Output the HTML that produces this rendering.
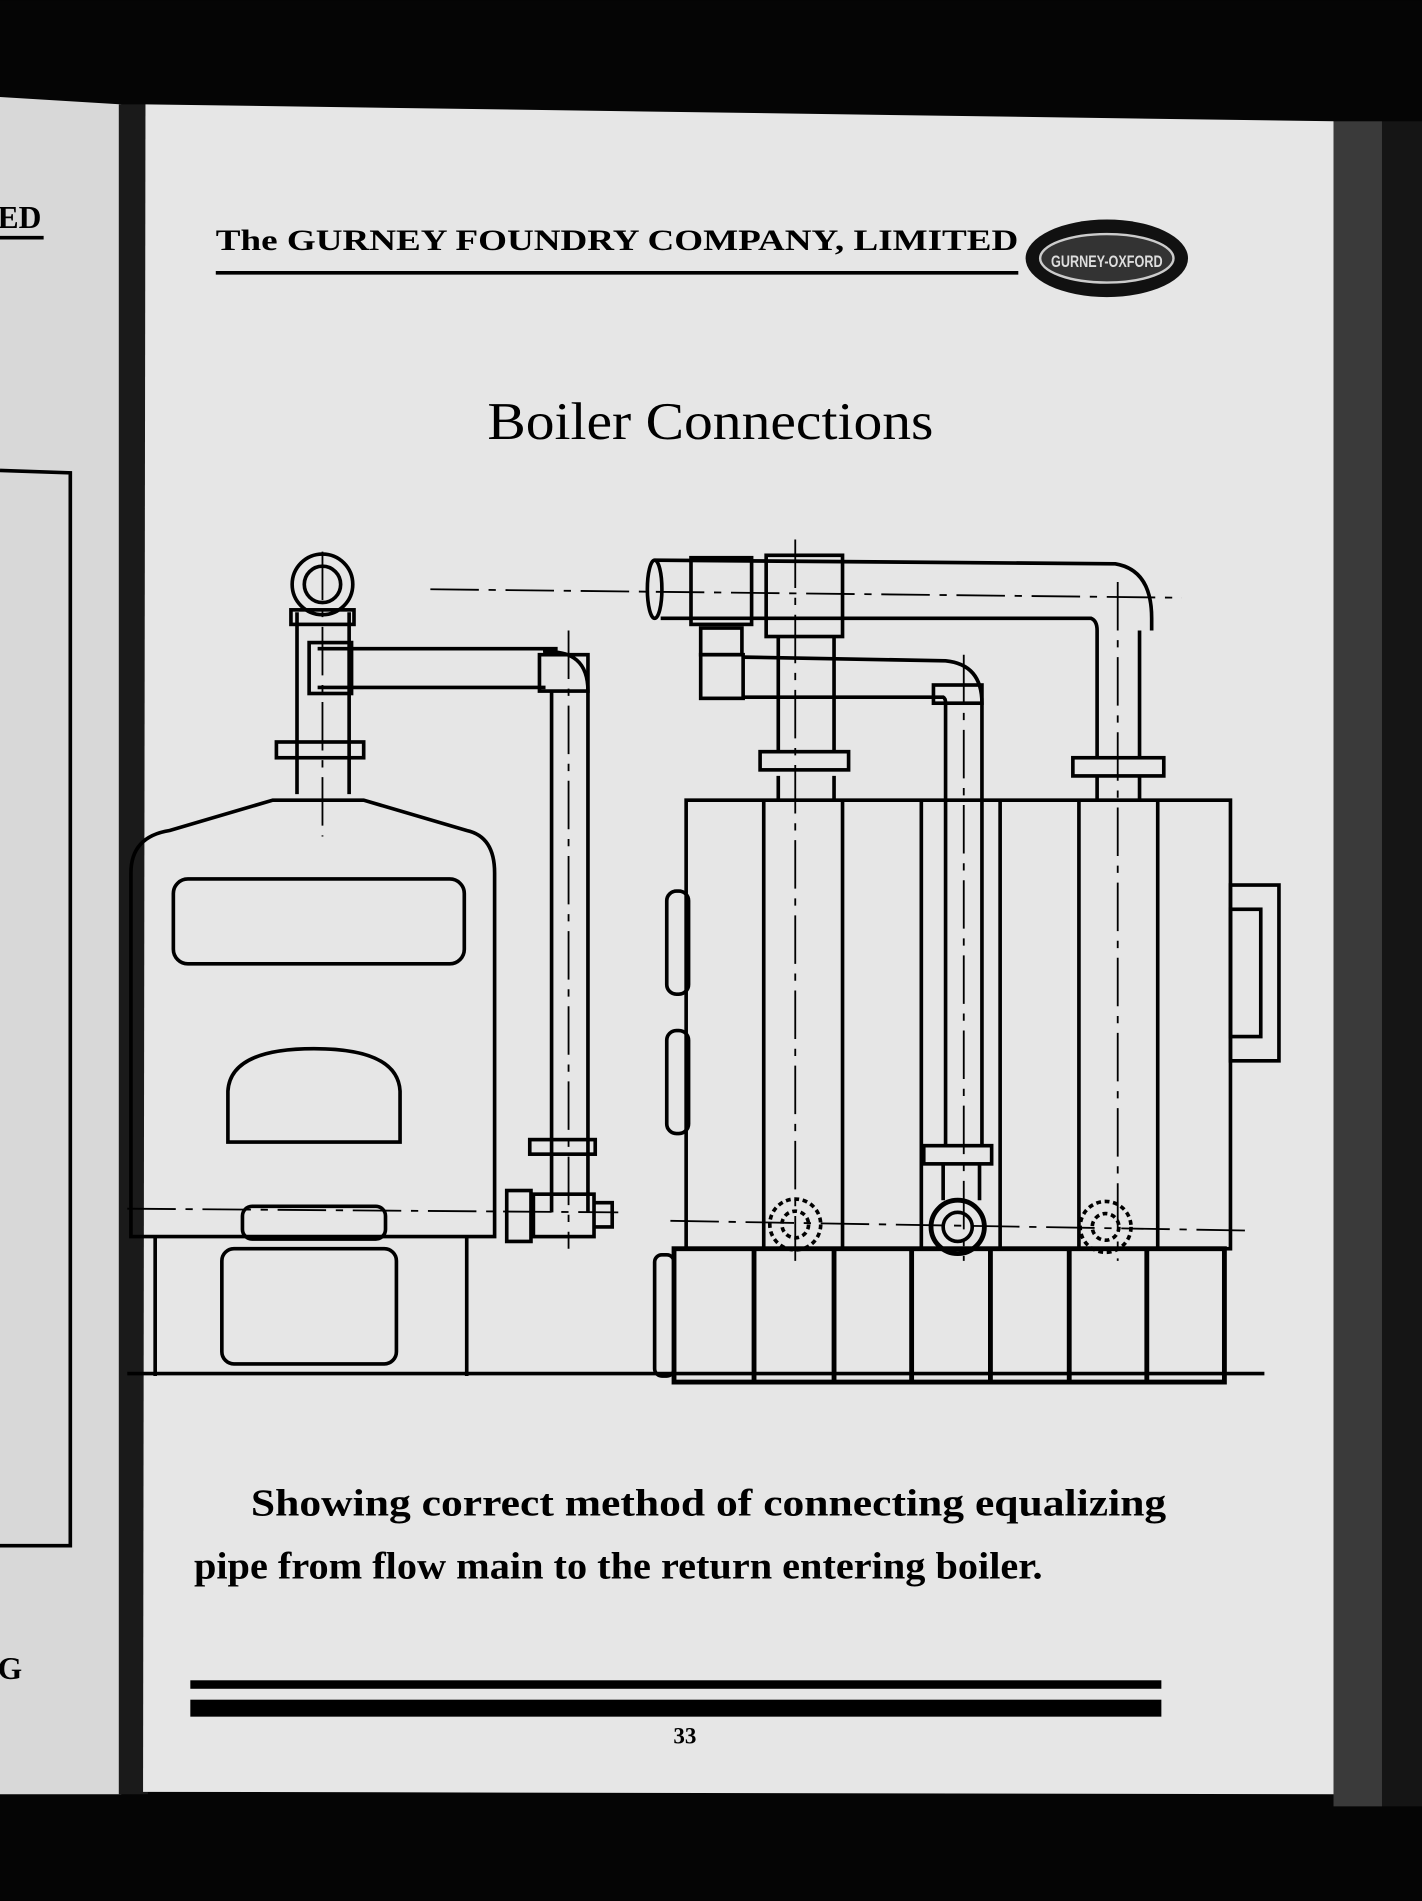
<!DOCTYPE html>
<html><head><meta charset="utf-8"><style>
html,body{margin:0;padding:0;background:#000;}
svg{display:block}
</style></head><body>
<svg width="1422" height="1901" viewBox="0 0 1173 1568" xmlns="http://www.w3.org/2000/svg">
<rect width="1173" height="1568" fill="#050505"/>
<path d="M0 80 L100 86 L100 1480 L0 1480 Z" fill="#d8d8d8"/>
<rect x="98" y="86" width="24" height="1394" fill="#1a1a1a"/>
<path d="M120 86 L1100 100 L1100 1480 L118 1478 Z" fill="#e6e6e6"/>
<rect x="1100" y="100" width="40" height="1390" fill="#3a3a3a"/>
<rect x="1140" y="100" width="33" height="1390" fill="#151515"/>
<text x="-2" y="188" font-family="Liberation Serif,serif" font-weight="bold" font-size="26">ED</text>
<line x1="0" y1="196" x2="36" y2="196" stroke="#000" stroke-width="3"/>
<path d="M0 388 L58 390 L58 1275 L0 1275" fill="none" stroke="#000" stroke-width="3"/>
<text x="-2" y="1385" font-family="Liberation Serif,serif" font-weight="bold" font-size="26">G</text>
<text x="178" y="206" font-family="Liberation Serif,serif" font-weight="bold" font-size="24" textLength="662" lengthAdjust="spacingAndGlyphs">The GURNEY FOUNDRY COMPANY, LIMITED</text>
<line x1="178" y1="225" x2="840" y2="225" stroke="#000" stroke-width="3"/>
<ellipse cx="913" cy="213" rx="67" ry="32" fill="#111"/>
<ellipse cx="913" cy="213" rx="55" ry="20" fill="#333" stroke="#ccc" stroke-width="2"/>
<text x="913" y="220" text-anchor="middle" font-family="Liberation Sans,sans-serif" font-weight="bold" font-size="14" fill="#ddd" textLength="92" lengthAdjust="spacingAndGlyphs">GURNEY-OXFORD</text>
<text x="586" y="362" text-anchor="middle" font-family="Liberation Serif,serif" font-size="44" textLength="368" lengthAdjust="spacingAndGlyphs">Boiler Connections</text>
<g fill="none" stroke="#000" stroke-width="3">
<path d="M108 1020 L108 720 Q108 690 140 685 L225 660 L300 660 L385 685 Q408 690 408 720 L408 1020 Z"/>
<rect x="143" y="725" width="240" height="70" rx="12"/>
<path d="M188 900 Q190 865 259 865 Q328 865 330 900 L330 942 L188 942 Z"/>
<rect x="200" y="995" width="118" height="27" rx="8"/>
<path d="M128 1020 L128 1135 M385 1020 L385 1135"/>
<rect x="183" y="1030" width="144" height="95" rx="10"/>
<line x1="105" y1="1133" x2="1043" y2="1133"/>
<path d="M245 505 L245 655 M288 505 L288 655"/>
<circle cx="266" cy="482" r="25"/><circle cx="266" cy="482" r="15"/>
<rect x="240" y="503" width="52" height="12"/>
<rect x="228" y="612" width="72" height="13"/>
<path d="M262 535 L460 535 M262 567 L450 567"/>
<rect x="255" y="530" width="35" height="42"/>
<path d="M448 538 Q485 535 485 570 L485 1000 M455 570 L455 1000"/>
<rect x="445" y="540" width="40" height="30"/>
<rect x="437" y="940" width="54" height="12"/>
<rect x="440" y="985" width="50" height="35"/>
<rect x="418" y="982" width="20" height="42"/>
<path d="M490 992 L505 992 L505 1012 L490 1012"/>
<rect x="566" y="660" width="449" height="370"/>
<path d="M630 660 V1030 M695 660 V1030 M760 660 V1030 M825 660 V1030 M890 660 V1030 M955 660 V1030"/>
<rect x="550" y="735" width="18" height="85" rx="8"/>
<rect x="550" y="850" width="18" height="85" rx="8"/>
<rect x="1015" y="730" width="40" height="145"/>
<rect x="1015" y="750" width="25" height="105"/>
<rect x="556" y="1030" width="454" height="110" stroke-width="4"/>
<path d="M622 1030 V1140 M688 1030 V1140 M752 1030 V1140 M817 1030 V1140 M882 1030 V1140 M946 1030 V1140" stroke-width="4"/>
<rect x="540" y="1035" width="16" height="100" rx="6"/>
<path d="M540 462 L920 465 Q950 470 950 510 L950 520 M545 510 L900 510 Q905 512 905 520"/>
<ellipse cx="540" cy="486" rx="6" ry="24"/>
<path d="M905 520 V625 M940 520 V625 M905 640 V660 M940 640 V660"/>
<rect x="885" y="625" width="75" height="15"/>
<rect x="570" y="460" width="50" height="55"/>
<rect x="632" y="458" width="63" height="67"/>
<path d="M642 525 V620 M688 525 V620 M642 640 V660 M688 640 V660"/>
<rect x="627" y="620" width="73" height="15"/>
<rect x="578" y="518" width="34" height="22"/>
<rect x="578" y="540" width="35" height="36"/>
<path d="M613 542 L780 545 Q810 548 810 580 L810 945 M613 575 L778 575 Q780 576 780 580 L780 945"/>
<rect x="770" y="565" width="40" height="15"/>
<rect x="762" y="945" width="56" height="15"/>
<path d="M778 960 V990 M808 960 V990"/>
<circle cx="790" cy="1012" r="22" stroke-width="4"/><circle cx="790" cy="1012" r="12"/>
<circle cx="656" cy="1010" r="21" stroke-dasharray="4 3"/><circle cx="656" cy="1010" r="11" stroke-dasharray="4 3"/>
<circle cx="912" cy="1012" r="21" stroke-dasharray="4 3"/><circle cx="912" cy="1012" r="11" stroke-dasharray="4 3"/>
</g>
<g stroke="#000" stroke-width="1.5" fill="none" stroke-dasharray="40 8 6 8">
<path d="M355 486 L975 493"/>
<path d="M266 455 V690 M469 520 V1030 M656 445 V1040 M922 480 V1040 M795 540 V1040"/>
<path d="M105 997 L510 1000 M553 1007 L1030 1015"/>
</g>
<g font-family="Liberation Serif,serif" font-weight="bold" font-size="31">
<text x="207" y="1250" textLength="755" lengthAdjust="spacingAndGlyphs">Showing correct method of connecting equalizing</text>
<text x="160" y="1302" textLength="700" lengthAdjust="spacingAndGlyphs">pipe from flow main to the return entering boiler.</text>
</g>
<rect x="157" y="1386" width="801" height="7" fill="#000"/>
<rect x="157" y="1402" width="801" height="14" fill="#000"/>
<text x="565" y="1438" text-anchor="middle" font-family="Liberation Serif,serif" font-weight="bold" font-size="19">33</text>
</svg>
</body></html>
